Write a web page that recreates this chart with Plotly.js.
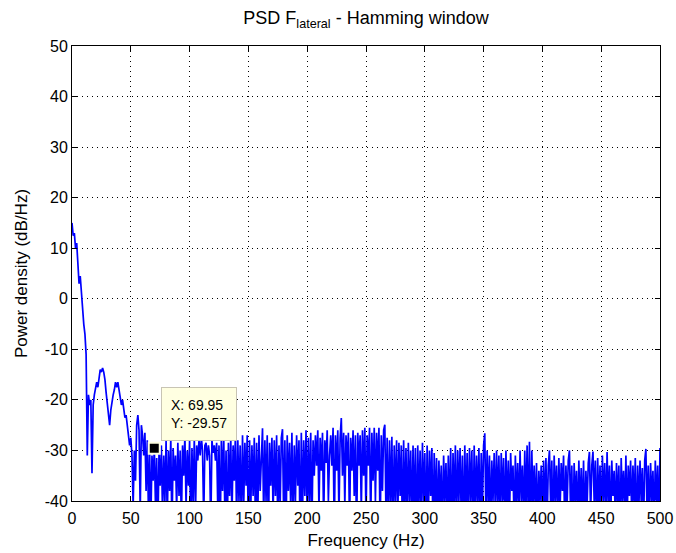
<!DOCTYPE html>
<html>
<head>
<meta charset="utf-8">
<script src="https://cdn.plot.ly/plotly-3.0.1.min.js"></script>
<style>
html,body{margin:0;padding:0;background:#fff;}
#chart{width:676px;height:553px;}
</style>
</head>
<body>
<div id="chart"></div>
<script>
// Frequency grid spacing (Hz)
const df = 1;

// PSD values (dB/Hz), one per Hz from 0 to 500 Hz
const psdLow = [ // 0 - 60 Hz
  15, 12.5, 13, 10, 11, 7, 3, 4.5, 0.5, -1,
  -5, -7, -11, -31, -19, -21, -20, -34.5, -21, -19,
  -18, -16.5, -17.5, -15.5, -14, -14.5, -13.7, -14.5, -16, -18.5,
  -21, -23, -25, -22, -20, -19, -18, -16.5, -17.5, -16.5,
  -18, -19.5, -21, -20, -22, -23.5, -23, -25, -26.5, -29,
  -27.5, -31, -41, -30, -36, -25, -23, -26, -42, -25,
  -27
];
const psdMid = [ // 61 - 270 Hz
  -31, -26.5, -38, -28, -42, -30, -45, -31, -36, -29.57,
  -41, -31.5, -46, -30.5, -37, -29, -43, -31, -40, -28,
  -44, -30, -38, -27.5, -47, -29.5, -36, -31, -42, -28.5,
  -39, -30, -45, -29, -35, -27, -41, -30, -37, -28,
  -48, -29.5, -40, -27.5, -43, -29, -32, -28, -31, -27.5,
  -30, -44, -29, -28.5, -32, -29, -31, -46, -28, -30.5,
  -29, -32, -28.5, -42, -29, -47, -28, -38, -27, -43,
  -30, -48, -28.5, -39, -27.5, -44, -29, -36, -26.5, -45,
  -28, -40, -29, -46, -27, -41, -28.5, -37, -27, -49,
  -28, -42, -29, -39, -27.5, -45, -28.5, -43, -27, -38,
  -29, -25.6, -44, -28, -40, -27, -48, -28.5, -37, -27.5,
  -43, -28, -39, -27, -46, -29, -41, -27.5, -25.8, -44,
  -28, -47, -27, -38, -28.5, -42, -26.5, -45, -29, -40,
  -27, -37, -28, -49, -26.5, -43, -28, -39, -26, -44,
  -27.5, -41, -26.5, -46, -28, -35, -27, -33, -26, -42,
  -27.5, -34, -26.5, -45, -28, -32.5, -26, -40, -31, -27,
  -33, -25.5, -47, -27, -34, -26, -43, -27.5, -23.6, -35,
  -26.5, -41, -27, -33, -26.5, -46, -27.5, -34, -26, -39,
  -27, -48, -26.5, -33, -27, -42, -26, -35, -25.5, -44,
  -27, -33, -25.5, -45, -26.5, -36, -25.5, -40, -26.5, -34,
  -25.5, -47, -27, -38, -26, -24.9, -43, -27.5, -45, -28
];
const psdHigh = [ // 271 - 500 Hz
  -41, -27.3, -47, -29, -40, -28, -44, -28.5, -39, -29,
  -48, -28, -42, -29.5, -45, -28.5, -40, -30, -46, -29,
  -43, -29.5, -49, -29, -41, -30, -45, -28.5, -40, -30.5,
  -47, -29, -44, -30, -39, -29.5, -48, -30.5, -42, -31.5,
  -46, -32, -41, -33, -47, -31, -40, -32.5, -45, -31,
  -43, -29.5, -48, -30.5, -41, -29, -46, -30, -40, -29.5,
  -44, -31, -49, -29, -42, -30.5, -45, -29.5, -40, -30,
  -47, -29, -43, -31, -41, -29.5, -46, -30.5, -42, -29,
  -26.6, -44, -30, -41, -31, -46, -32, -40, -30.5, -43,
  -30, -41, -31, -45, -30.5, -40, -31.5, -47, -30, -42,
  -32, -44, -30.5, -38, -33, -46, -31, -41, -32.5, -43,
  -30, -40, -33, -45, -30, -42, -29, -44, -28.3, -47,
  -30, -41, -33, -43, -32.5, -46, -34, -40, -33, -44,
  -32, -42, -31.5, -45, -33, -30, -41, -32, -47, -31,
  -40, -33, -44, -31.5, -42, -32.5, -38, -31, -46, -33,
  -41, -32, -30, -43, -33, -47, -32.5, -40, -34, -45,
  -32, -42, -33.5, -44, -32, -46, -34, -41, -32.5, -30.3,
  -43, -33, -30.2, -40, -32, -47, -31.5, -42, -33, -45,
  -31, -40, -32.5, -44, -30.3, -41, -33, -46, -32, -39,
  -34, -44, -32.5, -41, -33, -47, -31.5, -40, -34, -43,
  -31, -45, -33, -39, -32, -44, -33, -41, -31.5, -48,
  -33, -42, -32, -40, -33.5, -46, -32, -29.7, -43, -33,
  -44, -32.5, -40, -34, -45, -32, -41, -33, -46, -29.5
];

// Data tip
const tipX = [69.95];
const tipY = [-29.57];

// Axis ticks
const xTicks = [0, 50, 100, 150, 200, 250, 300, 350, 400, 450, 500];
const yTicks = [-40, -30, -20, -10, 0, 10, 20, 30, 40, 50];

const psd = psdLow.concat(psdMid, psdHigh);
const freq = psd.map((_, i) => i * df);

const fam = 'Liberation Sans, Arial, Helvetica, sans-serif';
const tickFont = {family: fam, size: 16, color: '#000'};
const labelFont = {family: fam, size: 17, color: '#000'};

const traces = [
  {
    x: freq, y: psd, type: 'scatter', mode: 'lines',
    line: {color: '#0000ff', width: 1.7},
    hoverinfo: 'skip'
  },
  {
    x: tipX, y: tipY, type: 'scatter', mode: 'markers',
    marker: {symbol: 'square', size: 11, color: '#000', line: {color: '#ffffe1', width: 2}},
    hoverinfo: 'skip'
  }
];

const axisCommon = {
  showline: true, linecolor: '#000', linewidth: 1, mirror: 'allticks',
  ticks: 'inside', ticklen: 5, tickcolor: '#000', tickwidth: 1,
  showgrid: true, gridcolor: '#000', gridwidth: 1, griddash: '1px,4px',
  zeroline: false, tickfont: tickFont, fixedrange: true
};

const layout = {
  width: 676, height: 553,
  margin: {l: 72, r: 16, t: 46, b: 52},
  paper_bgcolor: '#fff', plot_bgcolor: '#fff',
  showlegend: false,
  font: tickFont,
  title: {
    text: 'PSD F<sub>lateral</sub> - Hamming window',
    font: {family: fam, size: 18, color: '#000'}, x: 0.5, xref: 'paper', xanchor: 'center',
    y: 0.968, yref: 'container', yanchor: 'middle'
  },
  xaxis: Object.assign({}, axisCommon, {
    range: [0, 500], tickvals: xTicks, ticktext: xTicks.map(String),
    ticklabelstandoff: 3,
    title: {text: 'Frequency (Hz)', font: labelFont, standoff: 7}
  }),
  yaxis: Object.assign({}, axisCommon, {
    range: [-40, 50], tickvals: yTicks, ticktext: yTicks.map(String),
    title: {text: 'Power density (dB/Hz)', font: labelFont, standoff: 12}
  }),
  annotations: [{
    x: tipX[0], y: tipY[0], xref: 'x', yref: 'y',
    text: 'X: ' + tipX[0].toFixed(2) + '<br>Y: ' + tipY[0].toFixed(2),
    showarrow: false, xanchor: 'left', yanchor: 'bottom', align: 'left',
    xshift: 7, yshift: 7,
    bgcolor: '#ffffe1', bordercolor: '#c8c4b4', borderwidth: 1, borderpad: 9,
    font: {family: fam, size: 14, color: '#000'}
  }]
};

Plotly.newPlot('chart', traces, layout, {displayModeBar: false, staticPlot: true});
</script>
</body>
</html>
